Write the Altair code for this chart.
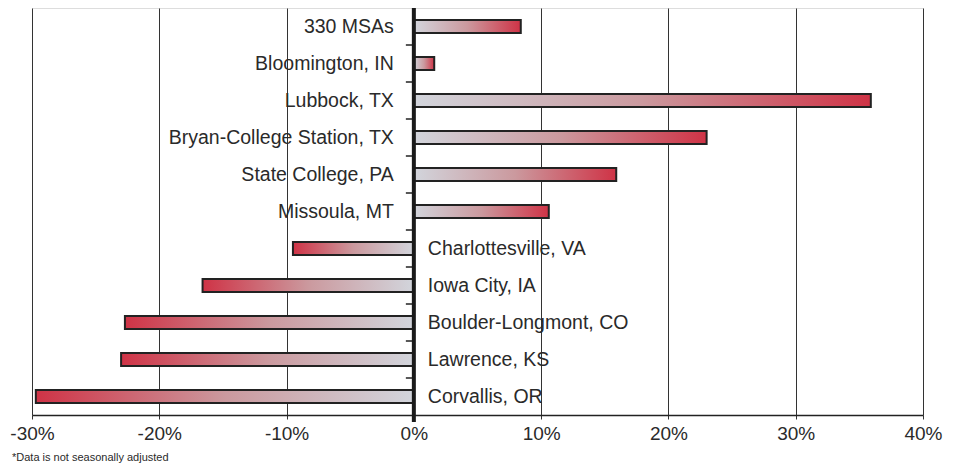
import altair as alt
import pandas as pd

categories = [
    "330 MSAs", "Bloomington, IN", "Lubbock, TX", "Bryan-College Station, TX",
    "State College, PA", "Missoula, MT", "Charlottesville, VA", "Iowa City, IA",
    "Boulder-Longmont, CO", "Lawrence, KS", "Corvallis, OR",
]
values = [8.4, 1.6, 35.9, 23.0, 15.9, 10.6, -9.5, -16.6, -22.7, -23.0, -29.7]
x_ticks = [-30, -20, -10, 0, 10, 20, 30, 40]
footnote = "*Data is not seasonally adjusted"

df = pd.DataFrame({"name": categories, "value": values, "zero": [0] * len(categories)})

FONT = "Liberation Sans, Arial, sans-serif"
GRAY = "#d2d5dc"
MID = "#cb999e"
RED = "#cf3346"
TEXT = "#2a2a2a"

xscale = alt.Scale(domain=[-30, 40], nice=False, zero=False)
yscale = alt.Scale(domain=categories, paddingInner=0, paddingOuter=0)

base = alt.Chart(df)

x_enc = alt.X(
    "value:Q",
    scale=xscale,
    axis=alt.Axis(
        values=x_ticks,
        title=None,
        grid=True,
        gridColor="#333333",
        gridWidth=1,
        domain=True,
        domainColor="#222222",
        domainWidth=1.5,
        ticks=True,
        tickSize=4,
        tickColor="#333333",
        labelFont=FONT,
        labelFontSize=19,
        labelColor=TEXT,
        labelPadding=5,
        labelFlush=False,
        labelOverlap=False,
        labelExpr="datum.value + '%'",
    ),
)
y_enc = alt.Y("name:N", scale=yscale, sort=categories, axis=None)

pos_grad = alt.Gradient(
    gradient="linear",
    stops=[
        alt.GradientStop(offset=0, color=GRAY),
        alt.GradientStop(offset=0.5, color=MID),
        alt.GradientStop(offset=1, color=RED),
    ],
    x1=0, x2=1, y1=0, y2=0,
)
neg_grad = alt.Gradient(
    gradient="linear",
    stops=[
        alt.GradientStop(offset=0, color=RED),
        alt.GradientStop(offset=0.5, color=MID),
        alt.GradientStop(offset=1, color=GRAY),
    ],
    x1=0, x2=1, y1=0, y2=0,
)

pos_bars = base.transform_filter("datum.value >= 0").mark_bar(
    size=13, color=pos_grad, stroke="#222222", strokeWidth=2
).encode(x=x_enc, x2="zero:Q", y=y_enc)

neg_bars = base.transform_filter("datum.value < 0").mark_bar(
    size=13, color=neg_grad, stroke="#222222", strokeWidth=2
).encode(x=alt.X("value:Q", scale=xscale), x2="zero:Q", y=y_enc)

pos_text = base.transform_filter("datum.value >= 0").mark_text(
    align="right", baseline="middle", dx=-20, font=FONT, fontSize=19.5, color=TEXT
).encode(x=alt.X("zero:Q", scale=xscale), y=y_enc, text="name:N")

neg_text = base.transform_filter("datum.value < 0").mark_text(
    align="left", baseline="middle", dx=14, font=FONT, fontSize=19.5, color=TEXT
).encode(x=alt.X("zero:Q", scale=xscale), y=y_enc, text="name:N")

cat_ticks = base.transform_filter(f"datum.name != '{categories[0]}'").mark_rule(
    color="#222222", strokeWidth=1.5, xOffset=-8
).encode(
    x=alt.X("zero:Q", scale=xscale),
    x2="zero:Q",
    y=alt.Y("name:N", scale=yscale, sort=categories, axis=None, bandPosition=0),
)

zero_rule = base.transform_filter(f"datum.name == '{categories[0]}'").mark_rule(
    color="#1a1a1a", strokeWidth=4
).encode(x=alt.X("zero:Q", scale=xscale), y=alt.value(-3), y2=alt.value(414))

note = alt.Chart(pd.DataFrame({"t": [footnote]})).mark_text(
    align="left", baseline="middle", font=FONT, fontSize=11, color=TEXT
).encode(x=alt.value(-20), y=alt.value(450), text="t:N")

chart = alt.layer(pos_bars, neg_bars, pos_text, neg_text, cat_ticks, zero_rule, note).properties(
    width=891,
    height=407,
    autosize=alt.AutoSizeParams(type="none"),
    padding={"left": 24, "top": 0, "right": 27, "bottom": 50},
).configure_view(stroke="#222222", strokeWidth=1.5).configure(background="white")

chart.save("out.html", embed_options={"renderer": "svg", "actions": False})
